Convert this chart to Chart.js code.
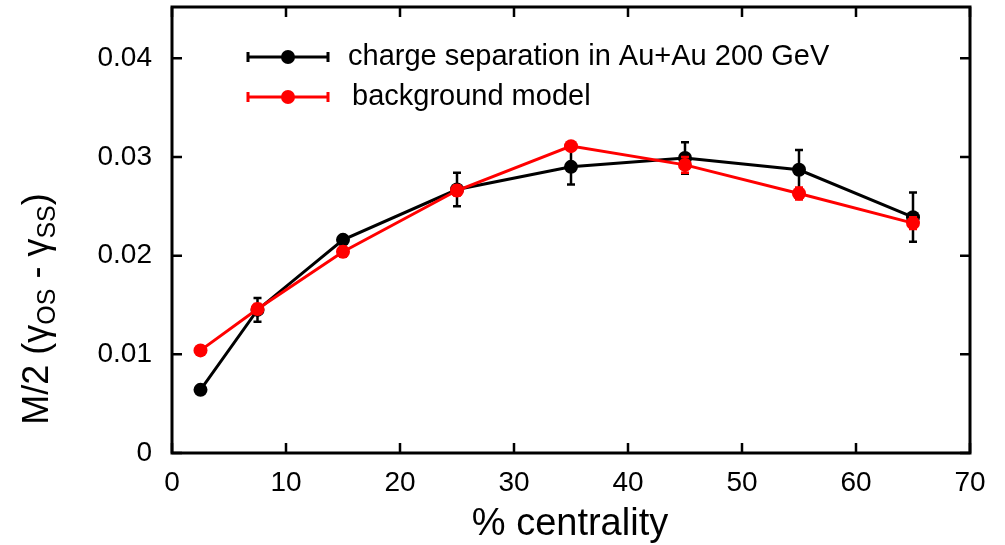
<!DOCTYPE html>
<html>
<head>
<meta charset="utf-8">
<script src="https://cdn.jsdelivr.net/npm/chart.js@4.4.1/dist/chart.umd.min.js"></script>
<style>
html, body { margin: 0; padding: 0; background: #fff; }
</style>
</head>
<body>
<canvas id="centralityChart" width="1005" height="545"></canvas>
<script>
// values
const centrality = [2.5, 7.5, 15, 25, 35, 45, 55, 65];
const chargeSep = [0.0064, 0.0145, 0.0216, 0.0267, 0.0290, 0.0299, 0.0287, 0.0239];
const chargeSepErr = [0, 0.0012, 0.0003, 0.0017, 0.0018, 0.0016, 0.0020, 0.0025];
const background = [0.0104, 0.0146, 0.0204, 0.0266, 0.0311, 0.0292, 0.0263, 0.0233];
const backgroundErr = [0, 0.0005, 0.0005, 0.0005, 0.0002, 0.0008, 0.0006, 0.0006];
const xTicks = [0, 10, 20, 30, 40, 50, 60, 70];
const yTicks = [0, 0.01, 0.02, 0.03, 0.04];

const FONT = '"Liberation Sans", Arial, Helvetica, sans-serif';

function toPoints(values) {
    return centrality.map((c, i) => ({ x: c, y: values[i] }));
}

// vertical error bars with caps, drawn under each dataset's markers
const errorBars = {
    id: 'errorBars',
    beforeDatasetDraw(chart, args) {
        const ds = chart.data.datasets[args.index];
        if (!ds.errors) return;
        const xs = chart.scales.x, ys = chart.scales.y;
        const ctx = chart.ctx;
        ctx.save();
        ctx.strokeStyle = ds.borderColor;
        ctx.lineWidth = 2.5;
        ds.data.forEach((pt, i) => {
            const e = ds.errors[i];
            if (!e) return;
            const px = xs.getPixelForValue(pt.x);
            const top = ys.getPixelForValue(pt.y + e);
            const bot = ys.getPixelForValue(pt.y - e);
            ctx.beginPath();
            ctx.moveTo(px, top); ctx.lineTo(px, bot);
            ctx.moveTo(px - 4, top); ctx.lineTo(px + 4, top);
            ctx.moveTo(px - 4, bot); ctx.lineTo(px + 4, bot);
            ctx.stroke();
        });
        ctx.restore();
    }
};

// box frame with inward ticks on all four sides
const frame = {
    id: 'frame',
    beforeDatasetsDraw(chart) {
        const { ctx, chartArea: a } = chart;
        const xs = chart.scales.x, ys = chart.scales.y;
        ctx.save();
        ctx.strokeStyle = '#000';
        ctx.lineWidth = 3;
        ctx.strokeRect(a.left, a.top, a.right - a.left, a.bottom - a.top);
        ctx.lineWidth = 2.5;
        ctx.beginPath();
        xTicks.forEach(v => {
            const px = xs.getPixelForValue(v);
            ctx.moveTo(px, a.bottom); ctx.lineTo(px, a.bottom - 10);
            ctx.moveTo(px, a.top); ctx.lineTo(px, a.top + 10);
        });
        yTicks.forEach(v => {
            const py = ys.getPixelForValue(v);
            ctx.moveTo(a.left, py); ctx.lineTo(a.left + 10, py);
            ctx.moveTo(a.right, py); ctx.lineTo(a.right - 10, py);
        });
        ctx.stroke();
        ctx.restore();
    }
};

// axis titles (y title has subscripts) and the in-plot legend
const annotations = {
    id: 'annotations',
    afterDraw(chart) {
        const ctx = chart.ctx;
        ctx.save();
        ctx.fillStyle = '#000';

        // x title
        ctx.font = '38px ' + FONT;
        ctx.textAlign = 'center';
        ctx.textBaseline = 'middle';
        ctx.fillText('% centrality', 570, 525);

        // y title, rotated
        const parts = [
            ['M/2 (\u03b3', false], ['OS', true], [' - \u03b3', false], ['SS', true], [')', false]
        ];
        const big = '36px ' + FONT, small = '25px ' + FONT;
        let total = 0;
        parts.forEach(([t, sub]) => { ctx.font = sub ? small : big; total += ctx.measureText(t).width; });
        ctx.translate(48, 309);
        ctx.rotate(-Math.PI / 2);
        ctx.textAlign = 'left';
        ctx.textBaseline = 'alphabetic';
        let cx = -total / 2;
        parts.forEach(([t, sub]) => {
            ctx.font = sub ? small : big;
            ctx.fillText(t, cx, sub ? 7 : 0);
            cx += ctx.measureText(t).width;
        });
        ctx.setTransform(1, 0, 0, 1, 0, 0);

        // legend
        ctx.font = '29px ' + FONT;
        ctx.textAlign = 'left';
        ctx.textBaseline = 'middle';
        chart.data.datasets.forEach((ds, i) => {
            const y = 57 + 40 * i;
            ctx.strokeStyle = ds.borderColor;
            ctx.fillStyle = ds.borderColor;
            ctx.lineWidth = 3;
            ctx.beginPath();
            ctx.moveTo(248, y); ctx.lineTo(328, y);
            ctx.moveTo(248, y - 5); ctx.lineTo(248, y + 5);
            ctx.moveTo(328, y - 5); ctx.lineTo(328, y + 5);
            ctx.stroke();
            ctx.beginPath();
            ctx.arc(288, y, 7, 0, Math.PI * 2);
            ctx.fill();
            ctx.fillStyle = '#000';
            ctx.fillText(ds.label, i === 0 ? 348 : 352, y);
        });
        ctx.restore();
    }
};

document.addEventListener('DOMContentLoaded', function() {
    const ctx = document.getElementById('centralityChart');

    new Chart(ctx, {
        type: 'line',
        data: {
            datasets: [{
                label: 'charge separation in Au+Au 200 GeV',
                data: toPoints(chargeSep),
                errors: chargeSepErr,
                borderColor: '#000',
                backgroundColor: '#000',
                borderWidth: 3,
                pointRadius: 7,
                pointBorderWidth: 0,
                order: 1
            }, {
                label: 'background model',
                data: toPoints(background),
                errors: backgroundErr,
                borderColor: '#ff0000',
                backgroundColor: '#ff0000',
                borderWidth: 3,
                pointRadius: 7,
                pointBorderWidth: 0,
                order: 0
            }]
        },
        options: {
            responsive: false,
            animation: false,
            clip: false,
            layout: { padding: { top: 7, right: 35, bottom: 0, left: 0 } },
            scales: {
                x: {
                    type: 'linear',
                    min: 0,
                    max: 70,
                    grid: { display: false, drawTicks: false },
                    border: { display: false },
                    afterBuildTicks: s => { s.ticks = xTicks.map(v => ({ value: v })); },
                    afterFit: s => { s.height = 92; s.paddingLeft = 0; s.paddingRight = 0; },
                    ticks: {
                        color: '#000',
                        padding: 13,
                        maxRotation: 0,
                        font: { family: FONT, size: 28 }
                    }
                },
                y: {
                    min: 0,
                    max: 0.0452,
                    grid: { display: false, drawTicks: false },
                    border: { display: false },
                    afterBuildTicks: s => { s.ticks = yTicks.map(v => ({ value: v })); },
                    afterFit: s => { s.width = 172; s.paddingTop = 0; s.paddingBottom = 0; },
                    ticks: {
                        color: '#000',
                        padding: 20,
                        font: { family: FONT, size: 28 },
                        callback: v => v === 0 ? '0' : v.toFixed(2)
                    }
                }
            },
            plugins: {
                legend: { display: false },
                tooltip: { enabled: false }
            }
        },
        plugins: [frame, errorBars, annotations]
    });
});
</script>
</body>
</html>
